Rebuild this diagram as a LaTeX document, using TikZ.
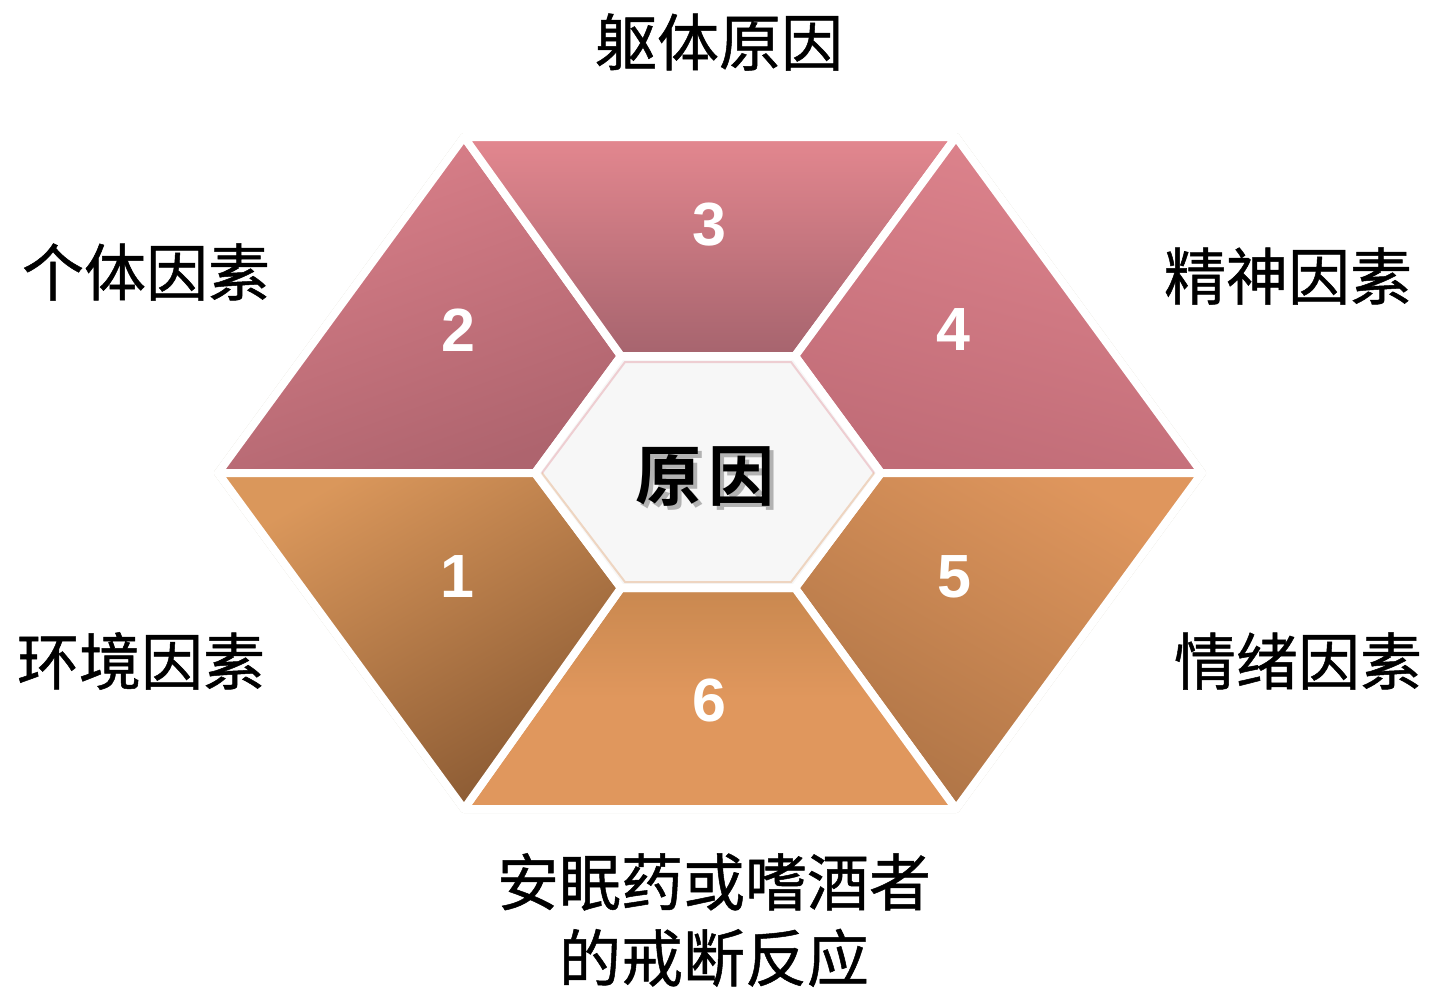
\documentclass[tikz,border=0pt]{standalone}
\usepackage{fontspec}
\setmainfont{Liberation Sans}
\newfontfamily\cjk{Noto Sans CJK SC}[FakeBold=0.8]
\newfontfamily\cjkb{Noto Sans CJK SC Bold}
\definecolor{p3a}{HTML}{E3878F}\definecolor{p3b}{HTML}{A6646E}
\definecolor{p2a}{HTML}{DB808A}\definecolor{p2b}{HTML}{AE646E}
\definecolor{p4a}{HTML}{DE848D}\definecolor{p4b}{HTML}{C06C77}
\definecolor{p1a}{HTML}{DA975B}\definecolor{p1b}{HTML}{8A5A33}
\definecolor{p5a}{HTML}{DF965D}\definecolor{p5b}{HTML}{AE7446}
\definecolor{p6a}{HTML}{C9884F}\definecolor{p6b}{HTML}{E0975D}
\definecolor{shad}{HTML}{D6D2C6}
\definecolor{midfill}{HTML}{F7F7F7}
\tikzset{
  piece/.style={draw=white,line width=8pt,line join=round},
  pshadow/.style={fill=shad,draw=shad,line width=8pt,line join=round},
  numlabel/.style={text=white,font=\fontsize{61}{61}\selectfont\bfseries},
  caplabel/.style={text=black,font=\cjk\fontsize{62}{76}\selectfont,align=center},
}
\begin{document}
\begin{tikzpicture}[x=1pt,y=-1pt]
\useasboundingbox (0,0) rectangle (1431,989);
% outer vertices
\coordinate (oL)  at (218,473);
\coordinate (oTL) at (464,137);
\coordinate (oTR) at (956,137);
\coordinate (oR)  at (1202,473);
\coordinate (oBR) at (956,809);
\coordinate (oBL) at (464,809);
% inner vertices
\coordinate (iL)  at (535,473);
\coordinate (iTL) at (621,356);
\coordinate (iTR) at (795,356);
\coordinate (iR)  at (881,473);
\coordinate (iBR) at (795,588);
\coordinate (iBL) at (621,588);
% shadows
\begin{scope}[shift={(4,5)}]
\foreach \a/\b/\c/\d in {oL/oTL/iTL/iL, oTL/oTR/iTR/iTL, oTR/oR/iR/iTR, oR/oBR/iBR/iR, oBR/oBL/iBL/iBR, oBL/oL/iL/iBL}
  \path[pshadow] (\a) -- (\b) -- (\c) -- (\d) -- cycle;
\end{scope}
% pieces
\shadedraw[piece,top color=p2a,bottom color=p2b,shading angle=20] (oL) -- (oTL) -- (iTL) -- (iL) -- cycle;
\shadedraw[piece,top color=p3a,bottom color=p3b] (oTL) -- (oTR) -- (iTR) -- (iTL) -- cycle;
\shadedraw[piece,top color=p4a,bottom color=p4b,shading angle=-15] (oTR) -- (oR) -- (iR) -- (iTR) -- cycle;
\shadedraw[piece,top color=p5a,bottom color=p5b,shading angle=-30] (oR) -- (oBR) -- (iBR) -- (iR) -- cycle;
\shadedraw[piece,top color=p6a,bottom color=p6b,middle color=p6b] (oBR) -- (oBL) -- (iBL) -- (iBR) -- cycle;
\shadedraw[piece,top color=p1a,bottom color=p1b,shading angle=30] (oBL) -- (oL) -- (iL) -- (iBL) -- cycle;
% centre hexagon
\filldraw[fill=midfill,draw=white,line width=8pt,line join=round] (iL) -- (iTL) -- (iTR) -- (iR) -- (iBR) -- (iBL) -- cycle;
\draw[draw=p4a,opacity=0.35,line width=2pt] ([shift={(7,0)}]iL) -- ([shift={(4,6)}]iTL) -- ([shift={(-4,6)}]iTR) -- ([shift={(-7,0)}]iR);
\draw[draw=p5a,opacity=0.35,line width=2pt] ([shift={(7,0)}]iL) -- ([shift={(4,-6)}]iBL) -- ([shift={(-4,-6)}]iBR) -- ([shift={(-7,0)}]iR);
% numbers
\node[numlabel] (n3) at (709,225) {3};
\node[numlabel] (n2) at (458,330) {2};
\node[numlabel] (n4) at (953,330) {4};
\node[numlabel] (n1) at (457,577) {1};
\node[numlabel] (n5) at (954,577) {5};
\node[numlabel] (n6) at (709,700) {6};
% centre text with shadow (one node)
\node[text=black,font=\cjkb\fontsize{66}{66}\selectfont] (ctr) at (705,478)
  {\rlap{\hspace{4pt}\raisebox{-4pt}{\color{black!30}原\hspace{8pt}因}}原\hspace{8pt}因};
% captions
\node[caplabel] (t3) at (719,42) {躯体原因};
\node[caplabel] (t2) at (146,272) {个体因素};
\node[caplabel] (t4) at (1288,276) {精神因素};
\node[caplabel] (t1) at (141,661) {环境因素};
\node[caplabel] (t5) at (1298,661) {情绪因素};
\node[caplabel] (t6) at (714,920) {安眠药或嗜酒者\\的戒断反应};
\end{tikzpicture}
\end{document}
